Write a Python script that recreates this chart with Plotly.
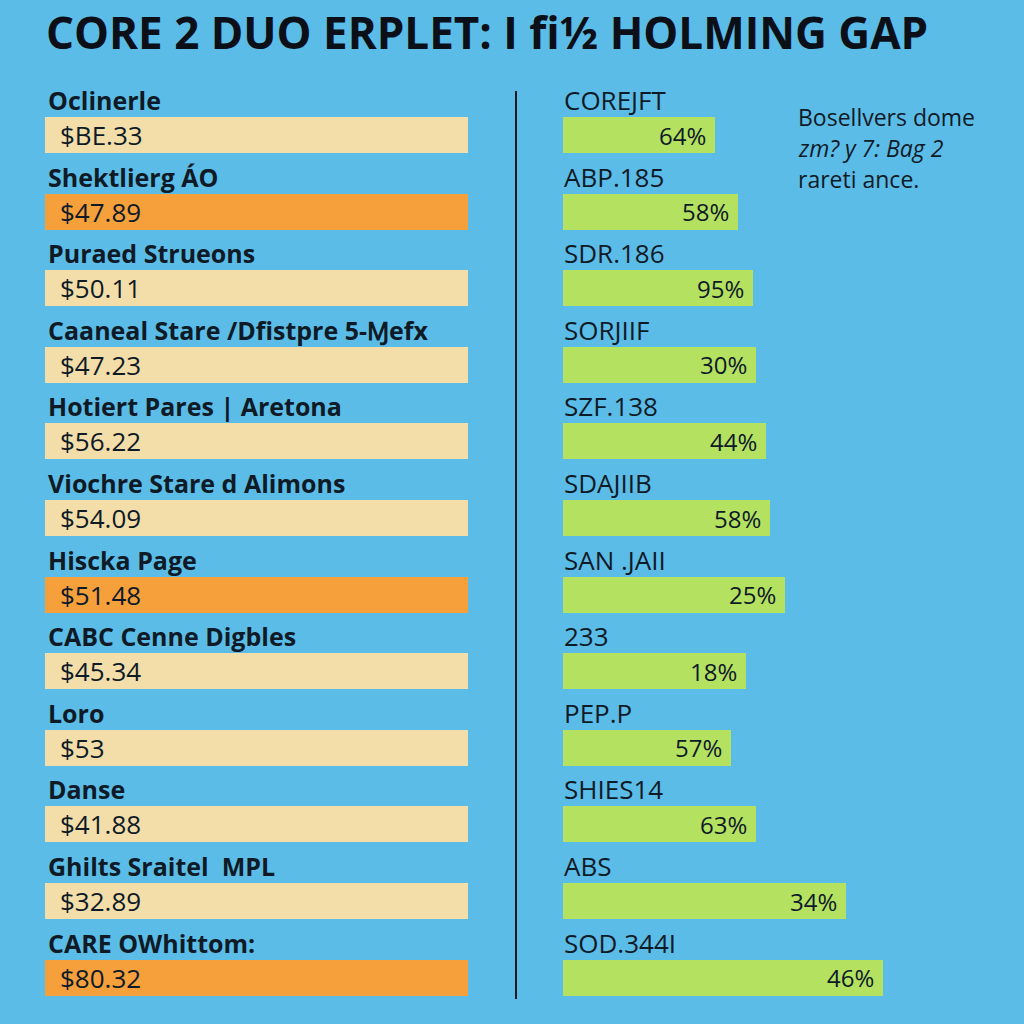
import plotly.graph_objects as go

# ---------------- data ----------------
left_labels = ["Oclinerle", "Shektlierg A\u0301O", "Puraed Strueons", "Caaneal Stare /Dfistpre 5-Ɱefx",
               "Hotiert Pares | Aretona", "Viochre Stare d Alimons", "Hiscka Page",
               "CABC Cenne Digbles", "Loro", "Danse", "Ghilts Sraitel  MPL", "CARE OWhittom:"]
left_values = ["$BE.33", "$47.89", "$50.11", "$47.23", "$56.22", "$54.09", "$51.48",
               "$45.34", "$53", "$41.88", "$32.89", "$80.32"]
left_bar_length = [100, 100, 100, 100, 100, 100, 100, 100, 100, 100, 100, 100]
left_highlight = [False, True, False, False, False, False, True, False, False, False, False, True]

right_labels = ["COREJFT", "ABP.185", "SDR.186", "SORJIIF", "SZF.138", "SDAJIIB",
                "SAN .JAII", "233", "PEP.P", "SHIES14", "ABS", "SOD.344I"]
right_pct = ["64%", "58%", "95%", "30%", "44%", "58%", "25%", "18%", "57%", "63%", "34%", "46%"]
right_bar_length = [34.5, 39.8, 43.2, 43.9, 46.1, 47.0, 50.5, 41.6, 38.2, 43.9, 64.3, 72.7]

title_text = "CORE 2 DUO ERPLET: I ﬁ½ HOLMING GAP"
note_lines = ["Bosellvers dome", "<i>zm? y 7: Bag 2</i>", "rareti ance."]

# ---------------- style ----------------
BG = "#5BBDE7"
CREAM = "#F3DEAA"
ORANGE = "#F5A03A"
GREEN = "#B4E260"
INK = "#0E1A26"
FONT = "Open Sans"

W = H = 1024
ROW_PX = 76.6
FIRST_ROW_PX = 135
rows = list(range(len(left_labels)))
y_top = -FIRST_ROW_PX / ROW_PX
y_bot = y_top + H / ROW_PX
bar_w = 36 / ROW_PX

fig = go.Figure()
fig.add_trace(go.Bar(
    x=left_bar_length, y=rows, orientation="h", xaxis="x", yaxis="y",
    marker=dict(color=[ORANGE if h else CREAM for h in left_highlight], line=dict(width=0)),
    width=bar_w, hoverinfo="skip", showlegend=False))
fig.add_trace(go.Bar(
    x=right_bar_length, y=rows, orientation="h", xaxis="x2", yaxis="y",
    marker=dict(color=GREEN, line=dict(width=0)),
    width=bar_w, hoverinfo="skip", showlegend=False))

ann = []
label_off = 35 / ROW_PX
for i in rows:
    ann.append(dict(x=46 / W, xref="paper", y=i - label_off, yref="y", text=left_labels[i],
                    xanchor="left", yanchor="middle", showarrow=False,
                    font=dict(family=FONT, size=25, color=INK, weight="bold")))
    ann.append(dict(x=58 / W, xref="paper", y=i, yref="y", text=left_values[i],
                    xanchor="left", yanchor="middle", showarrow=False,
                    font=dict(family=FONT, size=26, color=INK)))
    ann.append(dict(x=562 / W, xref="paper", y=i - label_off, yref="y", text=right_labels[i],
                    xanchor="left", yanchor="middle", showarrow=False,
                    font=dict(family=FONT, size=26, color=INK)))
    ann.append(dict(x=right_bar_length[i], xref="x2", y=i, yref="y", text=right_pct[i],
                    xanchor="right", yanchor="middle", xshift=-7, showarrow=False,
                    font=dict(family=FONT, size=24, color=INK)))

ann.append(dict(x=44 / W, xref="paper", y=1 - 32 / H, yref="paper", text=title_text,
                xanchor="left", yanchor="middle", showarrow=False,
                font=dict(family=FONT, size=44, color="#0A0F18", weight="bold")))
for k, line in enumerate(note_lines):
    ann.append(dict(x=796 / W, xref="paper", y=1 - (117 + 31 * k) / H, yref="paper", text=line,
                    xanchor="left", yanchor="middle", showarrow=False,
                    font=dict(family=FONT, size=23, color=INK)))

fig.update_layout(
    width=W, height=H, margin=dict(l=0, r=0, t=0, b=0),
    paper_bgcolor=BG, plot_bgcolor=BG, bargap=0,
    xaxis=dict(domain=[45 / W, 468 / W], range=[0, 100], visible=False, fixedrange=True),
    xaxis2=dict(domain=[563 / W, 1003 / W], range=[0, 100], visible=False, fixedrange=True,
                anchor="y"),
    yaxis=dict(domain=[0, 1], range=[y_bot, y_top], visible=False, fixedrange=True),
    annotations=ann,
    shapes=[dict(type="line", xref="paper", yref="paper", x0=516 / W, x1=516 / W,
                 y0=1 - 91 / H, y1=1 - 999 / H, line=dict(color="#101820", width=2))],
)

fig.write_html(
    "out.html",
    config={"displayModeBar": False},
    post_script="document.body.style.margin='0';document.body.style.background='" + BG + "';",
)
